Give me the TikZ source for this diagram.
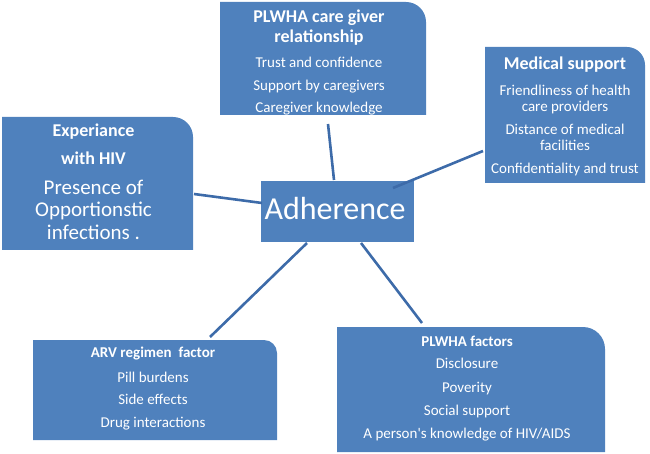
\documentclass[tikz,border=0pt]{standalone}
\usepackage{fontspec}
\setmainfont{Carlito}
\usetikzlibrary{calc}
\pgfdeclarelayer{bg}
\pgfsetlayers{bg,main}
\definecolor{boxblue}{HTML}{4F81BD}
\definecolor{lineblue}{HTML}{3D6BA9}
\newcommand\tabfill[2]{%
  \begin{pgfonlayer}{bg}
    \fill[boxblue] (#1.south west) -- (#1.north west) -- ([xshift=-#2pt]#1.north east)
      arc[start angle=90,end angle=0,radius=#2pt] -- (#1.south east) -- cycle;
  \end{pgfonlayer}}
\begin{document}
\begin{tikzpicture}[x=1pt,y=-1pt,
  box/.style={rectangle,inner sep=0pt,outer sep=0pt},
  txt/.style={text=white,align=center,inner sep=0pt,font=\fontsize{15}{23}\selectfont},
  link/.style={draw=lineblue,line width=2.6pt}]
\useasboundingbox (0,0) rectangle (650,454);
% box shapes
\node[box,minimum width=191pt,minimum height=133pt] (exp) at (97.5,183.5) {};
\node[box,minimum width=206pt,minimum height=113pt] (cg) at (323,58.5) {};
\node[box,minimum width=160pt,minimum height=136pt] (med) at (565,115) {};
\node[box,fill=boxblue,minimum width=153pt,minimum height=61pt] (adh) at (337.5,211.5) {};
\node[box,minimum width=244pt,minimum height=100pt] (arv) at (155,390) {};
\node[box,minimum width=268pt,minimum height=125pt] (fac) at (471,389.5) {};
\tabfill{exp}{20}
\tabfill{cg}{20}
\tabfill{med}{18}
\tabfill{arv}{13}
\tabfill{fac}{22}
% texts
\node[txt,font=\fontsize{21}{23}\selectfont] (expt) at (93.5,182)
  {{\fontsize{18}{23}\selectfont\bfseries Experiance}\\[5pt]
   {\fontsize{18}{23}\selectfont\bfseries with HIV}\\[7pt]
   Presence of\\[-1pt]Opportionstic\\infections .};
\node[txt] (cgt) at (319,62.5)
  {{\fontsize{18}{23}\selectfont\bfseries PLWHA care giver}\\[-3pt]
   {\fontsize{18}{23}\selectfont\bfseries relationship}\\[2pt]
   Trust and confidence\\Support by caregivers\\[-1pt]Caregiver knowledge};
\node[txt] (medt) at (565,116.5)
  {{\fontsize{18}{23}\selectfont\bfseries Medical support}\\[3pt]
   Friendliness of health\\[-7pt]care providers\\
   Distance of medical\\[-7pt]facilities\\
   Confidentiality and trust};
\node[txt,font=\fontsize{32}{36}\selectfont] (adht) at (335,208.5) {Adherence};
\node[txt] (arvt) at (153,389)
  {\textbf{ARV regimen\ \ factor}\\[2pt]Pill burdens\\[-1pt]Side effects\\Drug interactions};
\node[txt] (fact) at (467,389)
  {\textbf{PLWHA factors}\\[-1pt]Disclosure\\[1pt]Poverity\\Social support\\A person\textquotesingle s knowledge of HIV/AIDS};
% connectors
\draw[link] ($(exp.east)+(1,10.5)$) -- ($(adh.west)+(1,-8.5)$);
\draw[link] ($(cg.south)+(5,9)$) -- ($(adh.north)+(-3.5,-1)$);
\draw[link] ($(med.west)+(-2,36)$) -- ($(adh.north east)+(-21,7)$);
\draw[link] ($(adh.south)+(-30.5,1)$) -- ($(arv.north)+(55,-3)$);
\draw[link] ($(adh.south)+(23.5,1)$) -- ($(fac.north)+(-49,-4)$);
\end{tikzpicture}
\end{document}
